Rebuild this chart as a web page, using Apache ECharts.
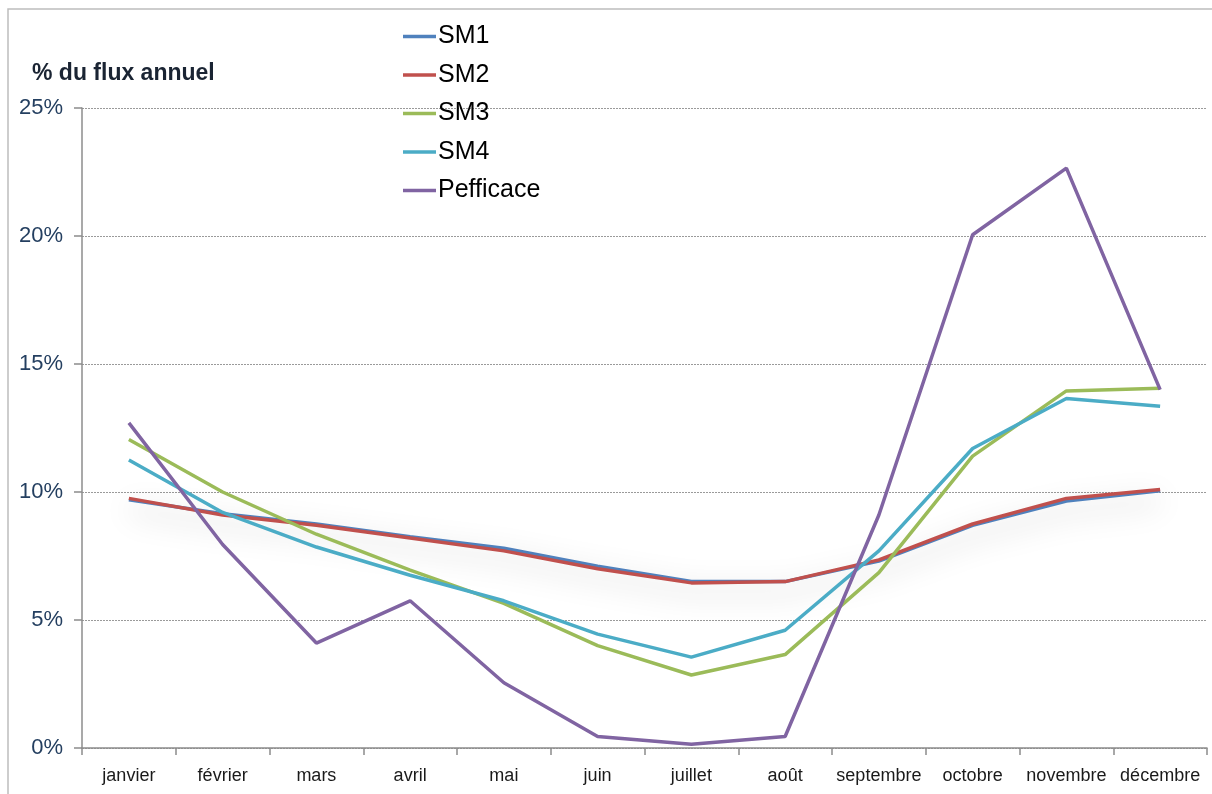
<!DOCTYPE html>
<html>
<head>
<meta charset="utf-8">
<script src="https://cdn.jsdelivr.net/npm/echarts@6/dist/echarts.min.js"></script>
<style>
html,body{margin:0;padding:0;background:#fff;}
#chart{width:1212px;height:794px;}
</style>
</head>
<body>
<div id="chart"></div>
<script>
const months = ['janvier','février','mars','avril','mai','juin','juillet','août','septembre','octobre','novembre','décembre'];
const sm1 = [9.7, 9.15, 8.75, 8.25, 7.8, 7.1, 6.5, 6.5, 7.3, 8.7, 9.65, 10.05];
const sm2 = [9.75, 9.1, 8.7, 8.2, 7.7, 7.0, 6.45, 6.5, 7.35, 8.75, 9.75, 10.1];
const sm3 = [12.05, 10.0, 8.35, 6.95, 5.65, 4.0, 2.85, 3.65, 6.85, 11.4, 13.95, 14.05];
const sm4 = [11.25, 9.2, 7.85, 6.75, 5.75, 4.45, 3.55, 4.6, 7.7, 11.7, 13.65, 13.35];
const pefficace = [12.7, 7.95, 4.1, 5.75, 2.55, 0.45, 0.15, 0.45, 9.1, 20.05, 22.65, 14.0];
const yTicks = {min: 0, max: 25, interval: 5};
const seriesNames = ['SM1','SM2','SM3','SM4','Pefficace'];
const seriesData = [sm1, sm2, sm3, sm4, pefficace];
const colors = ['#4F81BD','#C0504D','#9BBB59','#4BACC6','#8064A2'];

const chart = echarts.init(document.getElementById('chart'), null, {renderer:'canvas'});
const series = seriesNames.map((n, i) => ({
  name: n,
  type: 'line',
  data: seriesData[i],
  symbol: 'none',
  smooth: false,
  lineStyle: Object.assign({width: 3.5, color: colors[i]},
    i === 0 ? {shadowColor: 'rgba(0,0,0,0.32)', shadowBlur: 30, shadowOffsetY: 10} : {}),
  itemStyle: {color: colors[i]},
  z: 2 + i
}));

chart.setOption({
  animation: false,
  backgroundColor: '#fff',
  textStyle: {fontFamily: 'Liberation Sans, Arial, sans-serif'},
  graphic: [{
    type: 'rect',
    shape: {x: 8, y: 9, width: 1230, height: 820},
    style: {fill: 'none', stroke: '#BDBDBD', lineWidth: 1.5},
    silent: true, z: -10
  }, {
    type: 'text',
    left: 32, top: 62,
    style: {text: '% du flux annuel', font: 'bold 23px "Liberation Sans", Arial, sans-serif', fill: '#1A2433'}
  }],
  legend: {
    orient: 'vertical',
    left: 398, top: 19,
    itemWidth: 33, itemHeight: 3.5, itemGap: 13.5,
    icon: 'rect',
    textStyle: {fontSize: 25, color: '#000', padding: [0,0,0,-3]},
    data: seriesNames
  },
  grid: {left: 82, right: 5, top: 108, bottom: 46, containLabel: false},
  xAxis: {
    type: 'category',
    data: months,
    boundaryGap: true,
    axisLine: {show: true, lineStyle: {color: '#8C8C8C', width: 1.5}},
    axisTick: {show: true, length: 7, interval: 0, lineStyle: {color: '#8C8C8C', width: 1.5}},
    axisLabel: {fontSize: 18, color: '#1a1a1a', margin: 19, interval: 0},
    splitLine: {show: false}
  },
  yAxis: {
    type: 'value',
    min: yTicks.min, max: yTicks.max, interval: yTicks.interval,
    axisLine: {show: true, lineStyle: {color: '#8C8C8C', width: 1.5}},
    axisTick: {show: true, length: 8, lineStyle: {color: '#8C8C8C', width: 1.5}},
    axisLabel: {fontSize: 22, color: '#243F60', margin: 19, formatter: '{value}%'},
    splitLine: {show: true, lineStyle: {color: '#9A9A9A', type: [2, 1], width: 1}}
  },
  series: series
});
</script>
</body>
</html>
